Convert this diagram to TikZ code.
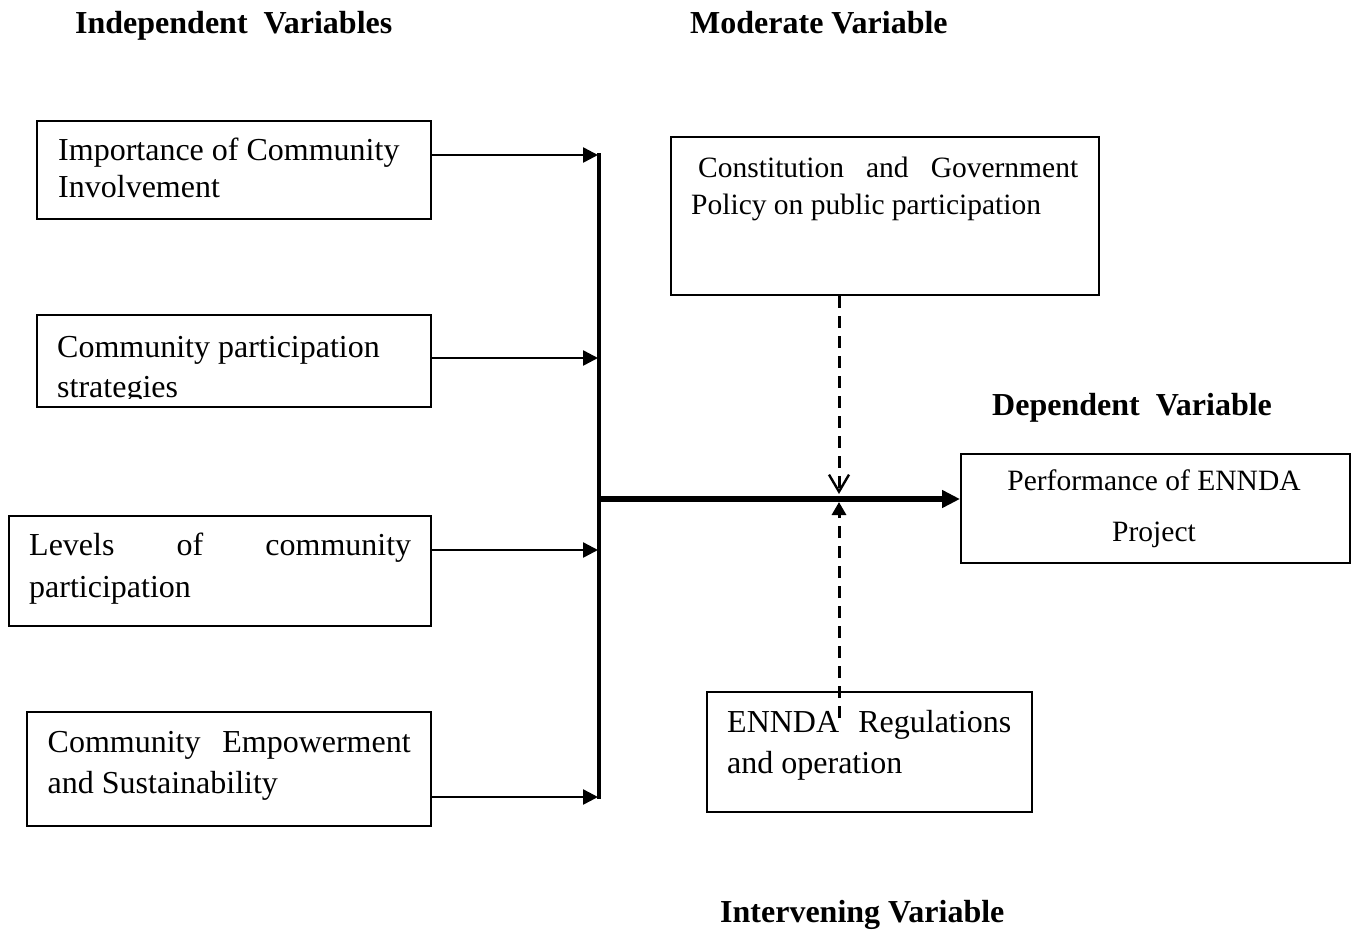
\documentclass[tikz,border=0pt]{standalone}
\usepackage{fontspec}
\setmainfont{Liberation Serif}
\usetikzlibrary{arrows.meta}
\begin{document}
\begin{tikzpicture}[x=1pt,y=-1pt,
  box/.style={draw, line width=2pt, inner sep=0pt},
  txt/.style={anchor=base west, inner sep=0pt, font=\fontsize{32}{38}\selectfont},
  txs/.style={anchor=base west, inner sep=0pt, font=\fontsize{29.5}{36}\selectfont},
  hdr/.style={anchor=base west, inner sep=0pt, font=\fontsize{32}{38}\selectfont\bfseries},
  feed/.style={line width=2.5pt, -{Triangle[length=15pt,width=15pt]}},
  dashline/.style={line width=3pt, dash pattern=on 12pt off 8pt}
]
\useasboundingbox (0,0) rectangle (1353,930);

% headers
\node[hdr] (hind) at (75,33) {Independent\ \ Variables};
\node[hdr] (hmod) at (690,33) {Moderate Variable};
\node[hdr] (hdep) at (992,415) {Dependent\ \ Variable};
\node[hdr] (hint) at (720,922) {Intervening Variable};

% boxes
\node[box, minimum width=394pt, minimum height=98pt] (iv1) at (234,170) {};
\node[box, minimum width=394pt, minimum height=92pt] (iv2) at (234,361) {};
\node[box, minimum width=422.5pt, minimum height=110pt] (iv3) at (219.75,571) {};
\node[box, minimum width=404pt, minimum height=114pt] (iv4) at (229,769) {};
\node[box, minimum width=428.5pt, minimum height=158pt] (mod) at (884.75,216) {};
\node[box, minimum width=389pt, minimum height=109pt] (dep) at (1155.5,508.5) {};
\node[box, minimum width=325pt, minimum height=120pt] (int) at (869.5,752) {};

% texts
\node[txt] (t1a) at (58,160) {Importance of Community};
\node[txt] (t1b) at (58,197) {Involvement};
\node[txt] (t2a) at (57,357) {Community participation};
\begin{scope}
  \clip (40,360) rectangle (428,398);
  \node[txt] (t2b) at (57,397) {strategies};
\end{scope}
\node[txt] (t3a) at (29,555) {\makebox[382pt][s]{Levels of community}};
\node[txt] (t3b) at (29,597) {participation};
\node[txt] (t4a) at (47.5,752) {\makebox[363pt][s]{Community Empowerment}};
\node[txt] (t4b) at (47.5,793) {and Sustainability};
\node[txs] (t5a) at (698,177) {\makebox[380pt][s]{Constitution and Government}};
\node[txs] (t5b) at (691,214) {Policy on public participation};
\node[txs, anchor=base] (t6a) at (1154,490) {Performance of ENNDA};
\node[txs, anchor=base] (t6b) at (1154,541) {Project};
\node[txt] (t7a) at (727,732) {\makebox[284pt][s]{ENNDA Regulations}};
\node[txt] (t7b) at (727,773) {and operation};

% bus coordinates
\coordinate (b1) at (598,155);
\coordinate (b2) at (598,358);
\coordinate (b3) at (598,550);
\coordinate (b4) at (598,797);
\coordinate (bmid) at (599,499);
\coordinate (jtop) at (839,494);
\coordinate (jbot) at (839,502);
\coordinate (intstart) at (839,718);

% bus
\draw[line width=4.5pt] (599,153) -- (599,799);

% feed arrows
\draw[feed] (iv1.east |- b1) -- (b1);
\draw[feed] (iv2.east |- b2) -- (b2);
\draw[feed] (iv3.east |- b3) -- (b3);
\draw[feed] (iv4.east |- b4) -- (b4);

% main arrow
\draw[line width=5.5pt, -{Triangle[length=18pt,width=17pt]}] (bmid) -- (dep.west |- bmid);

% moderating dashed arrow
\draw[dashline, -{Straight Barb[length=17pt,width=20pt,line width=2.4pt]}] (mod.south -| jtop) -- (jtop);

% intervening dashed arrow
\draw[dashline, -{Triangle[length=13pt,width=14pt]}] (intstart) -- (jbot);
\end{tikzpicture}
\end{document}
